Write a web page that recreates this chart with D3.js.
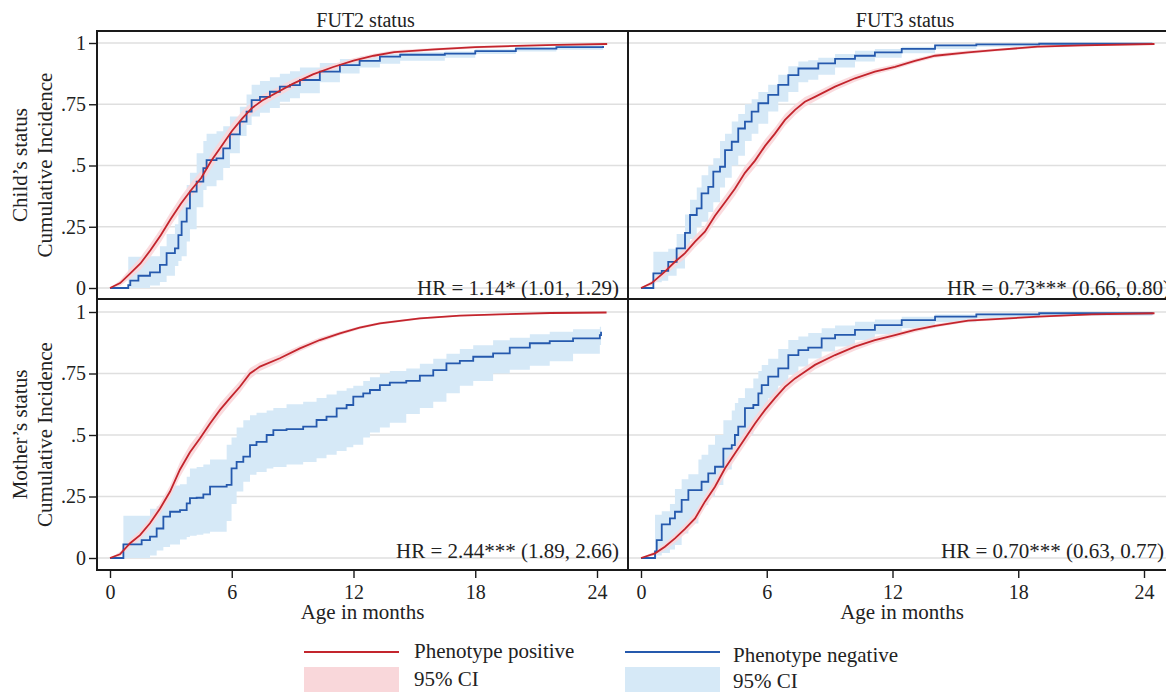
<!DOCTYPE html>
<html><head><meta charset="utf-8">
<script src="https://cdn.jsdelivr.net/npm/d3@7"></script>
<style>
body{margin:0;background:#fff}
text{font-family:"Liberation Serif","Times New Roman",serif;fill:#222}
</style>
</head><body>
<svg id="chart" width="1166" height="692"></svg>
<script>
// ---------------- data ----------------
const xTicks = [0, 6, 12, 18, 24];
const yTicks = [0, 0.25, 0.5, 0.75, 1];
const yTickLabels = ["0", ".25", ".5", ".75", "1"];
const colTitles = ["FUT2 status", "FUT3 status"];
const rowTitles = ["Child\u2019s status", "Mother\u2019s status"];
const yTitle = "Cumulative Incidence";
const xTitle = "Age in months";
const hrLabels = ["HR = 1.14* (1.01, 1.29)", "HR = 0.73*** (0.66, 0.80)", "HR = 2.44*** (1.89, 2.66)", "HR = 0.70*** (0.63, 0.77)"];
const legendLabels = ["Phenotype positive", "95% CI", "Phenotype negative", "95% CI"];

// Child FUT2 - phenotype positive
const tlPosT  = [0, 0.5, 1, 1.5, 2, 2.5, 3, 3.5, 4, 4.5, 5, 5.5, 6, 6.5, 7, 7.5, 8, 9, 10, 11, 12, 13, 14, 16, 18, 20, 22, 24.5];
const tlPosV  = [0, .02, .06, .10, .155, .215, .283, .345, .40, .45, .52, .58, .64, .69, .735, .765, .788, .833, .872, .902, .928, .948, .963, .974, .983, .988, .992, .996];
const tlPosLo = [0, .008, .04, .075, .128, .187, .255, .315, .37, .42, .49, .55, .61, .66, .71, .742, .768, .815, .858, .89, .918, .94, .956, .968, .978, .984, .989, .993];
const tlPosHi = [0, .032, .08, .125, .182, .243, .311, .375, .43, .48, .55, .61, .67, .72, .76, .788, .808, .851, .886, .914, .938, .956, .970, .980, .988, .992, .995, .999];
// Child FUT2 - phenotype negative
const tlNegT  = [0, 0.9, 1.0, 1.4, 1.97, 2.46, 2.79, 3.2, 3.37, 3.53, 3.78, 3.94, 4.27, 4.6, 4.76, 5.25, 5.58, 5.91, 6.4, 6.73, 6.98, 7.39, 7.88, 8.37, 8.87, 9.36, 10.34, 11.33, 12.3, 13.3, 14.3, 16.5, 18, 20, 22, 24.3];
const tlNegV  = [0, .012, .03, .05, .064, .094, .142, .162, .216, .271, .325, .393, .434, .489, .522, .529, .57, .627, .679, .72, .767, .78, .801, .822, .828, .849, .883, .91, .927, .944, .952, .957, .967, .977, .983, .988];
const tlNegLo = [0, 0, 0, 0, .01, .025, .05, .09, .11, .13, .19, .24, .33, .40, .415, .44, .49, .55, .62, .665, .70, .715, .735, .76, .775, .795, .84, .876, .90, .915, .928, .94, .955, .965, .972, .978];
const tlNegHi = [0, .128, .128, .128, .13, .17, .22, .26, .32, .37, .42, .47, .55, .60, .63, .64, .66, .70, .74, .79, .83, .845, .86, .875, .885, .90, .918, .935, .945, .955, .962, .965, .975, .985, .99, .995];

// Child FUT3 - phenotype positive
const trPosT  = [0, 0.51, 1.14, 1.62, 2.10, 2.58, 3.05, 3.53, 4.01, 4.48, 4.96, 5.44, 5.92, 6.39, 6.87, 7.35, 7.82, 8.30, 9.26, 10.21, 11.16, 12.12, 13.07, 14.03, 15.61, 17, 18.93, 21, 24.5];
const trPosV  = [0, .02, .067, .107, .142, .189, .23, .295, .35, .405, .47, .52, .58, .63, .686, .727, .76, .78, .822, .856, .883, .903, .927, .948, .962, .972, .985, .99, .996];
const trPosLo = [0, .01, .05, .088, .12, .165, .205, .268, .322, .377, .442, .492, .553, .605, .662, .705, .74, .762, .806, .842, .871, .893, .918, .94, .955, .966, .980, .986, .993];
const trPosHi = [0, .03, .084, .126, .164, .213, .255, .322, .378, .433, .498, .548, .607, .655, .71, .749, .78, .798, .838, .87, .895, .913, .936, .956, .969, .978, .99, .994, .999];
// Child FUT3 - phenotype negative
const trNegT  = [0, 0.59, 0.99, 1.30, 1.70, 2.10, 2.34, 2.66, 2.89, 3.21, 3.45, 3.77, 4.01, 4.33, 4.64, 4.96, 5.28, 5.60, 6.07, 6.55, 7.03, 7.51, 7.98, 8.46, 9.26, 10.21, 11.16, 12.44, 14.03, 16, 19, 24.4];
const trNegV  = [0, .06, .07, .107, .162, .225, .298, .325, .386, .413, .475, .495, .563, .597, .651, .679, .72, .754, .788, .829, .869, .896, .896, .917, .935, .948, .962, .976, .99, .994, .997, .999];
const trNegLo = [0, .023, .03, .05, .08, .148, .20, .25, .27, .31, .35, .41, .45, .50, .54, .60, .63, .67, .72, .76, .80, .84, .85, .87, .90, .924, .94, .958, .976, .985, .992, .996];
const trNegHi = [0, .148, .148, .16, .22, .30, .36, .41, .46, .50, .53, .60, .63, .68, .71, .75, .77, .80, .83, .87, .905, .925, .93, .94, .955, .968, .976, .985, .994, .997, .999, 1.0];

// Mother FUT2 - phenotype positive
const blPosT  = [0, 0.49, 0.99, 1.48, 1.97, 2.46, 2.96, 3.45, 3.94, 4.43, 4.93, 5.42, 5.91, 6.4, 6.9, 7.39, 8.37, 9.36, 10.34, 11.33, 12.3, 13.3, 15.27, 17.24, 19.2, 21.7, 24.47];
const blPosV  = [0, .015, .06, .093, .141, .2, .27, .36, .43, .486, .547, .602, .65, .696, .75, .778, .812, .852, .886, .913, .936, .954, .974, .985, .99, .996, .998];
const blPosLo = [0, .005, .045, .075, .12, .178, .245, .33, .40, .46, .52, .575, .625, .672, .728, .76, .797, .84, .876, .905, .93, .949, .97, .982, .988, .994, .997];
const blPosHi = [0, .025, .075, .112, .162, .222, .295, .39, .46, .512, .574, .629, .675, .72, .772, .796, .827, .864, .896, .921, .942, .959, .978, .988, .993, .998, .999];
// Mother FUT2 - phenotype negative
const blNegT  = [0, 0.66, 1.56, 1.97, 2.3, 2.63, 2.96, 3.45, 3.78, 3.94, 4.27, 4.6, 4.93, 5.75, 5.99, 6.24, 6.57, 6.9, 7.22, 7.72, 8.05, 8.7, 9.52, 10.18, 10.67, 11.17, 11.66, 11.99, 12.48, 12.81, 13.3, 13.79, 14.6, 15.27, 15.93, 16.58, 17.24, 17.9, 18.88, 19.7, 20.69, 21.67, 22.82, 24.14, 24.2];
const blNegV  = [0, .055, .073, .087, .12, .168, .188, .195, .222, .243, .245, .259, .29, .297, .364, .391, .412, .459, .472, .5, .52, .524, .534, .561, .575, .608, .622, .656, .669, .683, .703, .713, .72, .741, .764, .791, .801, .818, .832, .855, .873, .882, .893, .906, .92];
const blNegLo = [0, 0, 0, .01, .03, .045, .055, .075, .085, .09, .095, .10, .107, .15, .22, .27, .31, .338, .35, .364, .37, .38, .39, .405, .42, .435, .45, .46, .49, .51, .53, .55, .585, .61, .635, .67, .70, .72, .75, .765, .782, .80, .83, .866, .87];
const blNegHi = [0, .172, .172, .2, .21, .25, .295, .30, .33, .364, .37, .38, .40, .46, .49, .53, .56, .58, .59, .60, .61, .625, .635, .65, .665, .68, .69, .70, .72, .735, .75, .76, .77, .79, .81, .83, .85, .865, .885, .895, .91, .92, .93, .94, .955];

// Mother FUT3 - phenotype positive
const brPosT  = [0, 0.67, 1.14, 1.62, 2.10, 2.58, 3.05, 3.53, 4.01, 4.48, 4.96, 5.44, 5.92, 6.39, 6.87, 7.35, 7.82, 8.30, 9.26, 10.21, 11.16, 12.12, 13.07, 14.03, 15.61, 18.93, 21.5, 24.5];
const brPosV  = [0, .019, .046, .08, .118, .161, .229, .29, .365, .425, .486, .547, .602, .65, .696, .73, .757, .785, .825, .859, .886, .906, .927, .944, .965, .981, .99, .995];
const brPosLo = [0, .01, .032, .062, .098, .138, .204, .264, .338, .398, .459, .52, .576, .625, .673, .708, .737, .766, .808, .844, .873, .895, .918, .937, .959, .977, .987, .993];
const brPosHi = [0, .028, .06, .098, .138, .184, .254, .316, .392, .452, .513, .574, .628, .675, .719, .752, .777, .804, .842, .874, .899, .917, .936, .951, .971, .985, .993, .998];
// Mother FUT3 - phenotype negative
const brNegT  = [0, 0.67, 0.75, 0.99, 1.38, 1.62, 1.94, 2.26, 2.74, 2.89, 3.21, 3.53, 3.93, 4.33, 4.48, 4.64, 4.96, 5.36, 5.60, 5.76, 6.07, 6.55, 7.03, 7.51, 7.98, 8.62, 9.26, 10.21, 11.16, 12.44, 14.03, 16, 19, 24.4];
const brNegV  = [0, .027, .073, .137, .161, .188, .236, .276, .276, .31, .344, .371, .445, .459, .5, .534, .609, .622, .669, .703, .737, .771, .825, .845, .855, .893, .907, .927, .947, .967, .981, .99, .995, .998];
const brNegLo = [0, 0, .01, .02, .035, .053, .10, .14, .19, .215, .25, .297, .36, .40, .43, .47, .50, .55, .575, .60, .649, .70, .745, .778, .811, .839, .86, .886, .91, .934, .958, .975, .985, .993];
const brNegHi = [0, .176, .176, .19, .22, .28, .32, .34, .40, .42, .46, .50, .56, .60, .63, .65, .69, .73, .76, .785, .81, .85, .886, .90, .915, .934, .945, .96, .97, .981, .99, .995, .998, 1.0];

// ---------------- layout ----------------
const W = 1166, H = 692;
const cols = [
  {x0: 97, x1: 628, r0: 110, r1: 597},
  {x0: 628, x1: 1176, r0: 641, r1: 1144}
];
const rows = [
  {y0: 31, y1: 299, r0: 288, r1: 43, hrBase: 295},
  {y0: 299, y1: 570, r0: 558, r1: 312, hrBase: 558}
];
const hrRight = [619, 1170, 619, 1164];

const C = {
  posLine: "#c3252d", posBand: "#f9d7da",
  negLine: "#2559ad", negBand: "#d6e9f7",
  grid: "#dfdfdf", border: "#1a1a1a"
};

function zip(T, V, Lo, Hi) { return T.map((t, i) => ({t, v: V[i], lo: Lo[i], hi: Hi[i]})); }

const panels = [
  {r: 0, c: 0, pos: zip(tlPosT, tlPosV, tlPosLo, tlPosHi), neg: zip(tlNegT, tlNegV, tlNegLo, tlNegHi)},
  {r: 0, c: 1, pos: zip(trPosT, trPosV, trPosLo, trPosHi), neg: zip(trNegT, trNegV, trNegLo, trNegHi)},
  {r: 1, c: 0, pos: zip(blPosT, blPosV, blPosLo, blPosHi), neg: zip(blNegT, blNegV, blNegLo, blNegHi)},
  {r: 1, c: 1, pos: zip(brPosT, brPosV, brPosLo, brPosHi), neg: zip(brNegT, brNegV, brNegLo, brNegHi)}
];

const svg = d3.select("#chart");
svg.append("rect").attr("width", W).attr("height", H).attr("fill", "#fff");
const defs = svg.append("defs");

panels.forEach((p, i) => {
  const col = cols[p.c], row = rows[p.r];
  const x = d3.scaleLinear().domain([0, 24]).range([col.r0, col.r1]);
  const y = d3.scaleLinear().domain([0, 1]).range([row.r0, row.r1]);
  const clipId = "clip" + i;
  defs.append("clipPath").attr("id", clipId).append("rect")
    .attr("x", col.x0).attr("y", row.y0).attr("width", col.x1 - col.x0).attr("height", row.y1 - row.y0);
  const g = svg.append("g");
  const inner = g.append("g").attr("clip-path", `url(#${clipId})`);

  // gridlines
  inner.selectAll("line.grid").data(yTicks).enter().append("line")
    .attr("x1", col.x0).attr("x2", col.x1)
    .attr("y1", d => y(d)).attr("y2", d => y(d))
    .attr("stroke", C.grid).attr("stroke-width", 1.6);

  const bandStep = d3.area().curve(d3.curveStepAfter).x(d => x(d.t)).y0(d => y(d.lo)).y1(d => y(d.hi));
  const bandLin = d3.area().curve(d3.curveLinear).x(d => x(d.t)).y0(d => y(d.lo)).y1(d => y(d.hi));
  const lineStep = d3.line().curve(d3.curveStepAfter).x(d => x(d.t)).y(d => y(d.v));
  const lineLin = d3.line().curve(d3.curveLinear).x(d => x(d.t)).y(d => y(d.v));

  inner.append("path").datum(p.neg).attr("d", bandStep).attr("fill", C.negBand);
  inner.append("path").datum(p.pos).attr("d", bandLin).attr("fill", C.posBand).attr("fill-opacity", 0.9);
  inner.append("path").datum(p.neg).attr("d", lineStep).attr("fill", "none")
    .attr("stroke", C.negLine).attr("stroke-width", 1.8).attr("stroke-linejoin", "miter");
  inner.append("path").datum(p.pos).attr("d", lineLin).attr("fill", "none")
    .attr("stroke", C.posLine).attr("stroke-width", 1.8);

  // border
  g.append("rect").attr("x", col.x0).attr("y", row.y0)
    .attr("width", col.x1 - col.x0).attr("height", row.y1 - row.y0)
    .attr("fill", "none").attr("stroke", C.border).attr("stroke-width", 2);

  // HR label
  g.append("text").attr("x", hrRight[i]).attr("y", row.hrBase)
    .attr("text-anchor", "end").attr("font-size", 21).text(hrLabels[i]);

  // axes
  if (p.c === 0) {
    const ax = d3.axisLeft(y).tickValues(yTicks).tickFormat((d, k) => yTickLabels[k]).tickSize(8).tickPadding(3);
    const ag = g.append("g").attr("transform", `translate(${col.x0},0)`).call(ax);
    ag.select(".domain").remove();
    ag.selectAll("line").attr("stroke", C.border).attr("stroke-width", 1.4);
    ag.selectAll("text").attr("font-size", 20).attr("font-family", "Liberation Serif").attr("fill", "#222");
  }
  if (p.r === 1) {
    const ax = d3.axisBottom(x).tickValues(xTicks).tickFormat(d3.format("d")).tickSize(8).tickPadding(7);
    const ag = g.append("g").attr("transform", `translate(0,${row.y1})`).call(ax);
    ag.select(".domain").remove();
    ag.selectAll("line").attr("stroke", C.border).attr("stroke-width", 1.4);
    ag.selectAll("text").attr("font-size", 20).attr("font-family", "Liberation Serif").attr("fill", "#222");
    g.append("text").attr("x", (col.x0 + col.x1) / 2).attr("y", 619)
      .attr("text-anchor", "middle").attr("font-size", 21).text(xTitle);
  }
});

// column titles
cols.forEach((col, k) => {
  svg.append("text").attr("x", (col.x0 + col.x1) / 2 + 3).attr("y", 26.5)
    .attr("text-anchor", "middle").attr("font-size", 20).text(colTitles[k]);
});
// row titles
rows.forEach((row, k) => {
  const cy = (row.y0 + row.y1) / 2;
  svg.append("text").attr("transform", `translate(27,${cy}) rotate(-90)`)
    .attr("text-anchor", "middle").attr("font-size", 21).text(rowTitles[k]);
  svg.append("text").attr("transform", `translate(52,${cy}) rotate(-90)`)
    .attr("text-anchor", "middle").attr("font-size", 21).text(yTitle);
});

// legend
const leg = svg.append("g");
const legItems = [
  {x: 304, line: C.posLine, band: C.posBand, tx: 414, b1: 658, b2: 686, l1: legendLabels[0], l2: legendLabels[1]},
  {x: 625, line: C.negLine, band: C.negBand, tx: 733, b1: 662, b2: 688, l1: legendLabels[2], l2: legendLabels[3]}
];
legItems.forEach(it => {
  leg.append("line").attr("x1", it.x).attr("x2", it.x + 95).attr("y1", 652).attr("y2", 652)
    .attr("stroke", it.line).attr("stroke-width", 2.2);
  leg.append("rect").attr("x", it.x).attr("y", 667).attr("width", 95).attr("height", 30).attr("fill", it.band);
  leg.append("text").attr("x", it.tx).attr("y", it.b1).attr("font-size", 21).text(it.l1);
  leg.append("text").attr("x", it.tx).attr("y", it.b2).attr("font-size", 21).text(it.l2);
});
</script>
</body></html>
